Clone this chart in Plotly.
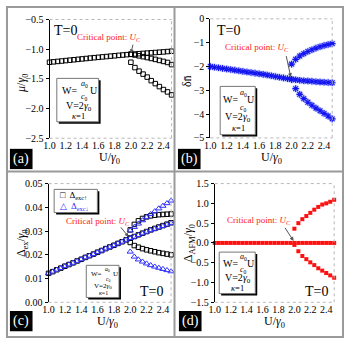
import plotly.graph_objects as go

# ---- data ----
U_main = [1.0, 1.05, 1.1, 1.15, 1.2, 1.25, 1.3, 1.35, 1.4, 1.45, 1.5,
          1.55, 1.6, 1.65, 1.7, 1.75, 1.8, 1.85, 1.9, 1.95, 2.0]
U_split = [2.0, 2.05, 2.1, 2.15, 2.2, 2.25, 2.3, 2.35, 2.4, 2.45, 2.5]
U_all = U_main + U_split[1:]
x_ticks = [1.0, 1.2, 1.4, 1.6, 1.8, 2.0, 2.2, 2.4]

# (a) chemical potential
mu_main = [-1.220, -1.213, -1.206, -1.199, -1.192, -1.185, -1.178, -1.171, -1.164, -1.157, -1.150,
           -1.143, -1.137, -1.130, -1.124, -1.117, -1.111, -1.104, -1.098, -1.092, -1.086]
mu_up = [-1.086, -1.081, -1.076, -1.071, -1.066, -1.061, -1.056, -1.051, -1.046, -1.040, -1.034]
mu_mid = [-1.086, -1.098, -1.112, -1.126, -1.141, -1.156, -1.172, -1.189, -1.206, -1.224, -1.26]
mu_low = [-1.22, -1.31, -1.37, -1.42, -1.47, -1.53, -1.58, -1.63, -1.68, -1.72, -1.77]

# (b) delta n
dn_main = [-2.00, -2.03, -2.055, -2.08, -2.105, -2.13, -2.155, -2.18, -2.205, -2.23, -2.255,
           -2.28, -2.305, -2.33, -2.36, -2.39, -2.42, -2.45, -2.48, -2.51, -2.54]
dn_mid = [-2.54, -2.56, -2.58, -2.60, -2.61, -2.62, -2.64, -2.65, -2.66, -2.67, -2.68]
dn_up = [-1.90, -1.70, -1.56, -1.46, -1.37, -1.30, -1.23, -1.17, -1.12, -1.08, -1.04]
dn_low = [-2.93, -3.17, -3.35, -3.50, -3.63, -3.75, -3.86, -3.97, -4.08, -4.20]

# (c) excitonic gaps
ex_main = [0.0122, 0.0129, 0.0137, 0.0144, 0.0152, 0.0159, 0.0166, 0.0174, 0.0181, 0.0189, 0.0196,
           0.0203, 0.0211, 0.0218, 0.0226, 0.0233, 0.0240, 0.0248, 0.0255, 0.0263, 0.0270]
exu_up = [0.0305, 0.0328, 0.0343, 0.0353, 0.0360, 0.0364, 0.0367, 0.0369, 0.0370, 0.0371, 0.0372]
exu_mid = [0.0270, 0.0277, 0.0284, 0.0291, 0.0298, 0.0305, 0.0311, 0.0317, 0.0323, 0.0329, 0.0335]
exu_low = [0.0252, 0.0239, 0.0232, 0.0226, 0.0221, 0.0217, 0.0213, 0.0209, 0.0206, 0.0203, 0.0200]
exd_up = [0.0302, 0.0317, 0.0331, 0.0345, 0.0358, 0.0371, 0.0383, 0.0395, 0.0406, 0.0417, 0.0428]
exd_mid = [0.0270, 0.0276, 0.0283, 0.0290, 0.0297, 0.0303, 0.0309, 0.0315, 0.0321, 0.0327, 0.0333]
exd_low = [0.0213, 0.0192, 0.0180, 0.0171, 0.0163, 0.0156, 0.0150, 0.0145, 0.0140, 0.0135, 0.0130]

# (d) AFM gap
afm_zero = [0.0] * len(U_all)
afm_up = [0.36, 0.50, 0.60, 0.68, 0.76, 0.84, 0.91, 0.97, 1.00, 1.04, 1.09]
afm_low = [-0.05, -0.21, -0.33, -0.41, -0.49, -0.56, -0.64, -0.70, -0.76, -0.82, -0.88]

SERIF = "Liberation Serif"
S = 344.0
BLUE = "#3030ff"


def px(x):
    return x / S


def py(y):
    return 1 - y / S


fig = go.Figure()

sq = dict(symbol="square-open", size=4.5, color="black", line=dict(width=1, color="black"))
tri = dict(symbol="triangle-up-open", size=5.5, color=BLUE, line=dict(width=1, color=BLUE))
halo = dict(symbol="asterisk", size=6.5, line=dict(width=2.2, color="rgba(140,160,255,0.45)"))
star = dict(symbol="asterisk", size=5.5, line=dict(width=1.1, color="#1515f0"))
red = dict(symbol="square", size=4, color="#ff1010")


def pts(x, y, m, ax):
    fig.add_trace(go.Scatter(x=x, y=y, mode="markers", marker=m, xaxis="x" + ax, yaxis="y" + ax,
                             showlegend=False, cliponaxis=False))


# (a)
for yy, xx in [(mu_main, U_main), (mu_up, U_split), (mu_mid, U_split), (mu_low, U_split)]:
    pts(xx, yy, sq, "")
# (b)
for yy, xx in [(dn_main, U_main), (dn_mid, U_split), (dn_up, U_split), (dn_low, U_split[1:])]:
    pts(xx, yy, halo, "2")
for yy, xx in [(dn_main, U_main), (dn_mid, U_split), (dn_up, U_split), (dn_low, U_split[1:])]:
    pts(xx, yy, star, "2")
# (c)
pts(U_main, ex_main, sq, "3")
for yy in [exu_up, exu_mid, exu_low]:
    pts(U_split, yy, sq, "3")
pts(U_main, ex_main, tri, "3")
for yy in [exd_up, exd_mid, exd_low]:
    pts(U_split, yy, tri, "3")
# (d)
pts(U_all, afm_zero, red, "4")
pts(U_split, afm_up, red, "4")
pts(U_split, afm_low, red, "4")

doms = {
    "": ([44.3, 168.5], [14, 137], [-2.5, -0.5], [-2.5, -2.0, -1.5, -1.0, -0.5], ".1f"),
    "2": ([208, 332], [13.3, 136.7], [-5, 0], [-5, -4, -3, -2, -1, 0], "d"),
    "3": ([43.3, 168], [184, 307], [0, 0.05], [0, 0.01, 0.02, 0.03, 0.04, 0.05], ".2f"),
    "4": ([212.5, 334], [184, 307], [-1.5, 1.5], [-1.5, -1.0, -0.5, 0.0, 0.5, 1.0, 1.5], ".1f"),
}
tick_font = dict(family=SERIF, size=10, color="black")
layout_axes = {}
shapes = []
for k, (xd, yd, yr, yt, fmt) in doms.items():
    layout_axes["xaxis" + k] = dict(
        domain=[px(xd[0]), px(xd[1])], range=[1.0, 2.5], anchor="y" + k,
        tickvals=x_ticks, ticktext=["%.1f" % v for v in x_ticks],
        showgrid=False, zeroline=False, showline=False, ticks="", tickfont=tick_font)
    layout_axes["yaxis" + k] = dict(
        domain=[py(yd[1]), py(yd[0])], range=yr, anchor="x" + k,
        tickvals=yt, tickformat=fmt, showgrid=False, zeroline=False,
        showline=True, linecolor="black", linewidth=1, ticks="outside", ticklen=3,
        tickcolor="black", tickfont=tick_font)
    xr, yr_ = "x" + k + " domain", "y" + k + " domain"
    for (x0, y0, x1, y1) in [(0, 1, 1, 1), (1, 0, 1, 1), (0, 0, 1, 0)]:
        shapes.append(dict(type="line", xref=xr, yref=yr_, x0=x0, y0=y0, x1=x1, y1=y1,
                           line=dict(color="#b8b8b8", width=1, dash="dot")))

annots = []


def txt(t, x, y, ref, size=10, color="black", **kw):
    annots.append(dict(text=t, x=x, y=y, xref="x" + ref, yref="y" + ref, showarrow=False,
                       xanchor="center", yanchor="middle",
                       font=dict(family=SERIF, size=size, color=color), **kw))


def ptxt(t, x, y, size=10, color="black", xanchor="center", **kw):
    annots.append(dict(text=t, x=px(x), y=py(y), xref="paper", yref="paper", showarrow=False,
                       xanchor=xanchor, yanchor="middle",
                       font=dict(family=SERIF, size=size, color=color), **kw))


def arrow(ref, x0, y0, x1, y1):
    annots.append(dict(text="", x=x1, y=y1, ax=x0, ay=y0, xref="x" + ref, yref="y" + ref,
                       axref="x" + ref, ayref="y" + ref, showarrow=True, arrowhead=2,
                       arrowsize=0.8, arrowwidth=1, arrowcolor="#555555"))


crit = "Critical point: <i>U<sub>C</sub></i>"
txt(crit, 1.73, -0.80, "", 9, "#ff2020")
arrow("", 2.03, -0.90, 2.0, -1.07)
txt(crit, 1.57, -1.21, "2", 9, "#ff2020")
arrow("2", 1.93, -1.5, 1.99, -2.45)
txt(crit, 1.60, 0.0339, "3", 9, "#ff2020")
arrow("3", 1.87, 0.0322, 1.98, 0.0276)
txt(crit, 1.56, 0.56, "4", 9, "#ff2020")
arrow("4", 1.87, 0.42, 1.99, 0.05)

txt("T=0", 1.2, -0.68, "", 14)
txt("T=0", 1.22, -0.47, "2", 14)
txt("T=0", 2.26, 0.0047, "3", 14)
txt("T=0", 2.28, -1.22, "4", 14)

# axis titles
ptxt("<i>μ</i>/<i>γ</i><sub>0</sub>", 17, 80, 12, textangle=-90)
ptxt("δn̄", 185, 78, 12, textangle=-90)
ptxt("Δ<sub>ex</sub>/<i>γ</i><sub>0</sub>", 17, 246, 12, textangle=-90)
ptxt("Δ<sub>AFM</sub>/<i>γ</i><sub>0</sub>", 187, 246, 12, textangle=-90)
for cx, cy in [(105, 157), (270, 157), (103, 327), (273, 327)]:
    ptxt("U/<i>γ</i><sub>0</sub>", cx, cy, 12)


def framed(left, top, w, h):
    shapes.append(dict(type="rect", xref="paper", yref="paper", x0=px(left + 2), x1=px(left + w + 2),
                       y0=py(top + h + 2), y1=py(top + 2), fillcolor="black", line=dict(width=0),
                       layer="above"))
    shapes.append(dict(type="rect", xref="paper", yref="paper", x0=px(left), x1=px(left + w),
                       y0=py(top + h), y1=py(top), fillcolor="white",
                       line=dict(color="#777777", width=1), layer="above"))


# parameter boxes
def param_box(left, top, w, h, fs):
    framed(left, top, w, h)
    ptxt("W=", left + 0.30 * w, top + 0.28 * h, fs)
    ptxt("<i>a</i><sub>0</sub>", left + 0.66 * w, top + 0.13 * h, fs * 0.8)
    ptxt("<i>c</i><sub>0</sub>", left + 0.66 * w, top + 0.44 * h, fs * 0.8)
    ptxt("U", left + 0.88 * w, top + 0.28 * h, fs)
    ptxt("V=2<i>γ</i><sub>0</sub>", left + 0.52 * w, top + 0.64 * h, fs)
    ptxt("<i>κ</i>=1", left + 0.52 * w, top + 0.86 * h, fs * 0.85)


param_box(51.7, 75, 42.6, 45, 10)
param_box(218, 83.3, 35.7, 50, 10)
param_box(81.7, 268.7, 33.3, 33.3, 7)
param_box(217, 255, 36.7, 43, 10)

# legend of panel (c)
framed(49, 190, 44, 24)
ptxt("□  Δ<sub>exc↑</sub>", 53, 196.5, 9, xanchor="left")
ptxt("△  Δ<sub>exc↓</sub>", 53, 207.5, 9, BLUE, xanchor="left")

# panel letters
for lab, x0, y0 in [("(a)", 4, 148), ("(b)", 175, 148), ("(c)", 4, 316), ("(d)", 176, 316)]:
    shapes.append(dict(type="rect", xref="paper", yref="paper", x0=px(x0), x1=px(x0 + 23),
                       y0=py(y0 + 21), y1=py(y0), fillcolor="black", line=dict(width=0)))
    ptxt(lab, x0 + 11.5, y0 + 10.5, 14, "white")

# panel separators and frame
g = dict(color="#9a9a9a", width=2)
shapes += [
    dict(type="line", xref="paper", yref="paper", x0=px(171.5), x1=px(171.5), y0=0, y1=1, line=g),
    dict(type="line", xref="paper", yref="paper", x0=0, x1=1, y0=py(171.5), y1=py(171.5), line=g),
    dict(type="rect", xref="paper", yref="paper", x0=px(1), x1=px(343), y0=py(343), y1=py(1),
         line=g),
]

fig.update_layout(
    width=344, height=344, margin=dict(l=0, r=0, t=0, b=0),
    paper_bgcolor="white", plot_bgcolor="white", showlegend=False,
    shapes=shapes, annotations=annots, **layout_axes)

# the page body has a default 8px margin; drop it so the 344px figure fills the window
fig.write_html("out.html", config={"displayModeBar": False},
               post_script="document.body.style.margin='0px';")
